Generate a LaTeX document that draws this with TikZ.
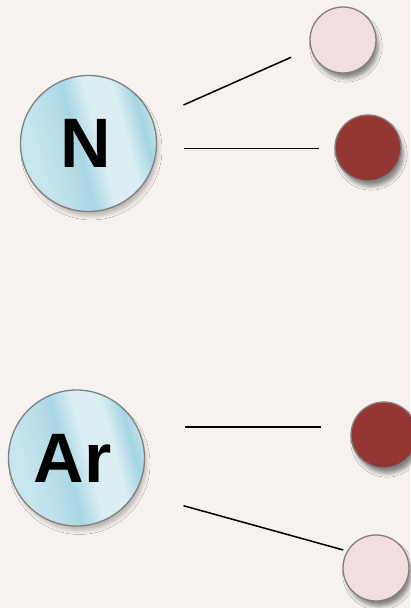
\documentclass[tikz,border=0pt]{standalone}
\usepackage{fontspec}
\newfontfamily\labelfont{Liberation Sans}
\usetikzlibrary{shadows.blur}
\definecolor{bg}{HTML}{F7F2EF}
\definecolor{pinkfill}{HTML}{F2DEDF}
\definecolor{redfill}{HTML}{943634}
\definecolor{rimgray}{HTML}{808080}
\definecolor{glassA}{HTML}{DBEEF4}
\definecolor{glassB}{HTML}{92CDDC}
\definecolor{glassC}{HTML}{B7DEE8}
\pgfdeclarehorizontalshading{glass}{100bp}{
  color(0bp)=(glassC!55!glassA);
  color(30bp)=(glassC!55!glassA);
  color(40bp)=(glassC);
  color(46bp)=(glassB!70!glassA);
  color(54bp)=(glassA);
  color(64bp)=(glassA);
  color(71bp)=(glassB!75!glassA);
  color(79bp)=(glassA!90!glassC);
  color(100bp)=(glassA)}
\tikzset{
  atom/.style={circle, draw=rimgray, line width=1.3pt, minimum size=136pt, inner sep=0pt,
    shading=glass, shading angle=15,
    font=\labelfont\bfseries\fontsize{70}{70}\selectfont, text=black,
    blur shadow={shadow xshift=3pt, shadow yshift=-6pt, shadow blur radius=4pt, shadow scale=0.98, shadow opacity=25}},
  ball/.style={circle, draw=rimgray, line width=1.3pt, minimum size=66pt, inner sep=0pt,
    blur shadow={shadow xshift=3pt, shadow yshift=-6pt, shadow blur radius=4pt, shadow scale=0.98, shadow opacity=45}},
  lightball/.style={ball, fill=pinkfill},
  darkball/.style={ball, fill=redfill},
  link/.style={draw=black, line width=1.5pt}
}
\begin{document}
\begin{tikzpicture}[x=1pt, y=-1pt]
\fill[bg] (0,0) rectangle (410,608);
\useasboundingbox (0,0) rectangle (410,608);
\node[atom] (N) at (88.5,143.5) {\raisebox{-2.5pt}{\kern-6pt N}};
\node[atom] (Ar) at (76.5,458) {\raisebox{-1pt}{\kern-8pt Ar}};
\node[lightball] (p1) at (343,40) {};
\node[darkball] (r1) at (368,148) {};
\node[darkball] (r2) at (384,435) {};
\node[lightball] (p2) at (376,568) {};
\draw[link] ([shift={(95,-38.5)}]N.center) -- ([shift={(-52,17.3)}]p1.center);
\draw[link] ([shift={(95,4.8)}]N.center) -- ([shift={(-49,0.3)}]r1.center);
\draw[link] ([shift={(108.5,-31)}]Ar.center) -- ([shift={(-63,-8)}]r2.center);
\draw[link] ([shift={(107,47.7)}]Ar.center) -- ([shift={(-32.7,-18)}]p2.center);
\end{tikzpicture}
\end{document}
